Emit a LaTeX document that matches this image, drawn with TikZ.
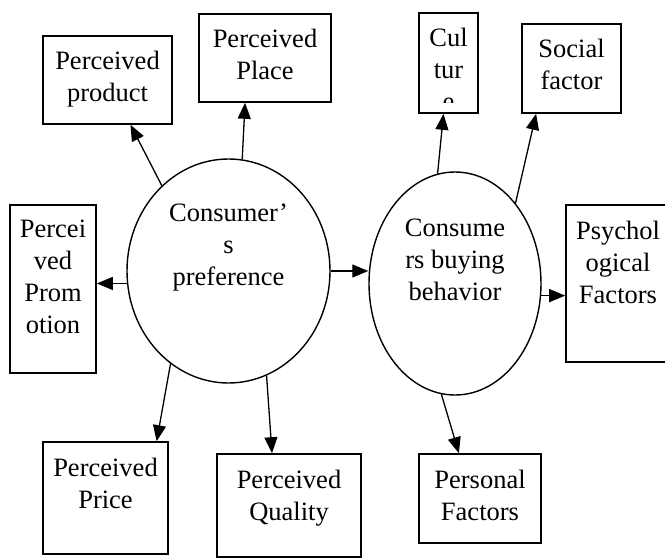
\documentclass[tikz,border=0pt]{standalone}
\usepackage{fontspec}
\setmainfont{Liberation Serif}
\usepackage{tikz}
\usetikzlibrary{positioning,shapes.geometric,arrows.meta}

\begin{document}
\begin{tikzpicture}[x=1pt,y=-1pt,
							box/.style={rectangle,draw,line width=1.6pt,inner sep=0pt},
							oval/.style={ellipse,draw,line width=1.4pt,inner sep=0pt},
							txt/.style={align=center,inner sep=0pt,font=\fontsize{26.5}{32}\selectfont},
							arr/.style={line width=1.3pt,-{Triangle[length=16pt,width=13pt]}}]
			\useasboundingbox (0,0) rectangle (665,560);
			% the two ovals
			\node[oval,minimum width=203pt,minimum height=224pt] (pref) at (228.5,271) {};
			\node[oval,minimum width=172pt,minimum height=223pt] (cons) at (455,283.5) {};
			\node[txt,below=45pt of pref.north] (preft) {Consumer’\\s\\preference};
			\node[txt,below=47pt of cons.north] (const) {Consume\\rs buying\\behavior};
			% boxes
			\node[box,minimum width=129pt,minimum height=88pt] (prod) at (107.5,80) {};
			\node[box,minimum width=132pt,minimum height=88pt] (place) at (265,58) {};
			\node[box,minimum width=59pt,minimum height=100pt] (cult) at (448.5,63) {};
			\node[box,minimum width=99pt,minimum height=89pt] (soc) at (571.5,68.5) {};
			\node[box,minimum width=86pt,minimum height=168pt] (promo) at (53,289) {};
			\node[box,minimum width=104pt,minimum height=157pt] (psych) at (618,283.5) {};
			\node[box,minimum width=125pt,minimum height=112pt] (price) at (105.5,498) {};
			\node[box,minimum width=144pt,minimum height=103pt] (qual) at (289,505.5) {};
			\node[box,minimum width=122pt,minimum height=89pt] (pers) at (480,498.5) {};
			% box texts
			\node[txt,below=16pt of prod.north] (prodt) {Perceived\\product};
			\node[txt,below=16pt of place.north] (placet) {Perceived\\Place};
			\begin{scope}
				\clip (cult.north west) rectangle ([yshift=11pt]cult.south east);
				\node[txt,below=16pt of cult.north] (cultt) {Cul\\tur\\e};
			\end{scope}
			\node[txt,below=16pt of soc.north] (soct) {Social\\factor};
			\node[txt,below=16pt of promo.north] (promot) {Percei\\ved\\Prom\\otion};
			\node[txt,below=17pt of psych.north] (psycht) {Psychol\\ogical\\Factors};
			\node[txt,below=17pt of price.north] (pricet) {Perceived\\Price};
			\node[txt,below=17pt of qual.north] (qualt) {Perceived\\Quality};
			\node[txt,below=17pt of pers.north] (perst) {Personal\\Factors};
			% arrows
			\draw[arr] (pref.128) -- (prod);
			\draw[arr] (pref.83) -- (place.246);
			\draw[arr] (pref.187) -- (pref.187 -| promo.east);
			\draw[arr] (pref.238) -- (price.48);
			\draw[arr] (pref.290) -- (qual.108);
			\draw[arr] (pref.east) -- (pref.east -| cons.west);
			\draw[arr] (cons.99) -- (cult);
			\draw[arr] (cons.53) -- (soc.232);
			\draw[arr] (cons.-8) -- (cons.-8 -| psych.west);
			\draw[arr] (cons.263) -- (pers.115);
		\end{tikzpicture}
\end{document}
